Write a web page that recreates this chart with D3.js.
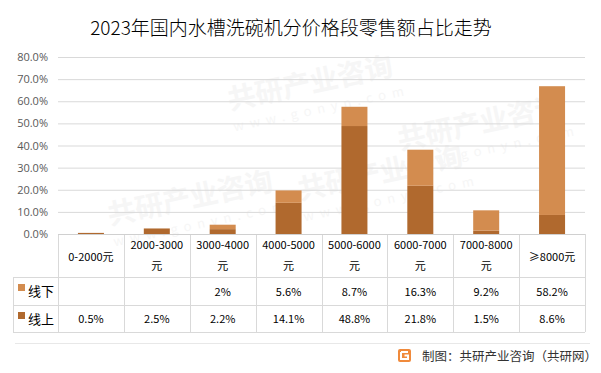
<!DOCTYPE html>
<html lang="zh">
<head>
<meta charset="UTF-8">
<title>2023年国内水槽洗碗机分价格段零售额占比走势</title>
<script src="https://d3js.org/d3.v7.min.js"></script>
<style>
    body, html {
        margin: 0;
        padding: 0;
        background: #fff;
        font-family: 'Noto Sans CJK SC', 'Noto Sans', sans-serif;
    }
    svg { display: block; }
</style>
</head>
<body>
<svg id="chart"></svg>
<script>
    // price bands (header lines) and shares in %
    const categories = [
        ['0-2000元'],
        ['2000-3000', '元'],
        ['3000-4000', '元'],
        ['4000-5000', '元'],
        ['5000-6000', '元'],
        ['6000-7000', '元'],
        ['7000-8000', '元'],
        ['≥8000元']
    ];
    const online = [0.5, 2.5, 2.2, 14.1, 48.8, 21.8, 1.5, 8.6];      // 线上
    const offline = [null, null, 2, 5.6, 8.7, 16.3, 9.2, 58.2];      // 线下
    const onlineLabels = ['0.5%', '2.5%', '2.2%', '14.1%', '48.8%', '21.8%', '1.5%', '8.6%'];
    const offlineLabels = ['', '', '2%', '5.6%', '8.7%', '16.3%', '9.2%', '58.2%'];
    const yTicks = [0, 10, 20, 30, 40, 50, 60, 70, 80];

    const width = 601, height = 373;
    const colOff = '#d38c4f', colOn = '#b0692e';
    const gridCol = '#d9d9d9';

    const svg = d3.select('#chart').attr('width', width).attr('height', height);

    // faint watermarks
    const wm = svg.append('g').attr('fill', '#f6f6f6').attr('font-weight', 700);
    [[230, 110], [110, 225], [300, 200], [400, 150]].forEach(p => {
        const g = wm.append('g').attr('transform', `translate(${p[0]},${p[1]}) rotate(-12)`);
        g.append('text').attr('font-size', 28).text('共研产业咨询');
        g.append('text').attr('y', 22).attr('font-size', 13).attr('letter-spacing', 6)
            .attr('font-weight', 400).text('www.gonyn.com');
    });

    const plotL = 58, plotR = 585, plotT = 57, plotB = 234;

    const x = d3.scaleBand().domain(d3.range(categories.length)).range([plotL, plotR]).paddingInner(0).paddingOuter(0);
    const y = d3.scaleLinear().domain([0, 80]).range([plotB, plotT]);

    // title
    svg.append('text')
        .attr('x', 291).attr('y', 35)
        .attr('text-anchor', 'middle')
        .attr('font-size', 19)
        .attr('font-weight', 300)
        .attr('fill', '#000')
        .text('2023年国内水槽洗碗机分价格段零售额占比走势');

    // gridlines + y axis labels
    const yAxis = d3.axisLeft(y).tickValues(yTicks).tickSize(-(plotR - plotL)).tickPadding(10)
        .tickFormat(d => d.toFixed(1) + '%');
    const ga = svg.append('g').attr('transform', `translate(${plotL},0)`).call(yAxis);
    ga.select('.domain').remove();
    ga.selectAll('.tick line').attr('stroke', gridCol).attr('stroke-width', 1);
    ga.selectAll('.tick text').attr('fill', '#595959').attr('font-size', 11)
        .attr('font-family', "'Open Sans', 'Noto Sans', sans-serif");

    // bars
    const bw = 26;
    const bars = svg.append('g');
    categories.forEach((c, i) => {
        const cx = x(i) + x.bandwidth() / 2;
        const on = online[i] || 0;
        const off = offline[i] || 0;
        bars.append('rect')
            .attr('x', cx - bw / 2).attr('width', bw)
            .attr('y', y(on)).attr('height', y(0) - y(on))
            .attr('fill', colOn);
        if (off) {
            bars.append('rect')
                .attr('x', cx - bw / 2).attr('width', bw)
                .attr('y', y(on + off)).attr('height', y(on) - y(on + off))
                .attr('fill', colOff);
        }
    });

    // data table
    const tLeft = 13, rowTop = 277, rowMid = 305, rowBot = 332;
    const tbl = svg.append('g').attr('stroke', gridCol).attr('stroke-width', 1);
    [rowTop, rowMid, rowBot].forEach(yy => {
        tbl.append('line').attr('x1', tLeft).attr('x2', plotR).attr('y1', yy + 0.5).attr('y2', yy + 0.5);
    });
    tbl.append('line').attr('x1', tLeft + 0.5).attr('x2', tLeft + 0.5).attr('y1', rowTop).attr('y2', rowBot);
    d3.range(categories.length + 1).forEach(i => {
        const xx = i < categories.length ? x(i) : plotR;
        tbl.append('line').attr('x1', Math.round(xx) + 0.5).attr('x2', Math.round(xx) + 0.5)
            .attr('y1', plotB).attr('y2', rowBot);
    });
    svg.append('line').attr('x1', plotL).attr('x2', plotR).attr('y1', plotB + 0.5).attr('y2', plotB + 0.5)
        .attr('stroke', '#d0d0d0');

    const txt = svg.append('g').attr('fill', '#000').attr('font-size', 11).attr('text-anchor', 'middle');
    categories.forEach((c, i) => {
        const cx = x(i) + x.bandwidth() / 2;
        if (c.length === 1) {
            txt.append('text').attr('x', cx).attr('y', 261).text(c[0]);
        } else {
            txt.append('text').attr('x', cx).attr('y', 249).text(c[0]);
            txt.append('text').attr('x', cx).attr('y', 270).text(c[1]);
        }
        txt.append('text').attr('x', cx).attr('y', 296).text(offlineLabels[i]);
        txt.append('text').attr('x', cx).attr('y', 323).text(onlineLabels[i]);
    });

    // row legends
    const rows = [['线下', colOff, 291], ['线上', colOn, 319]];
    rows.forEach(r => {
        svg.append('rect').attr('x', 18).attr('y', r[2] - 7).attr('width', 7).attr('height', 7).attr('fill', r[1]);
        svg.append('text').attr('x', 28).attr('y', r[2] + 5).attr('font-size', 13).attr('fill', '#000').text(r[0]);
    });

    // footer
    svg.append('line').attr('x1', 15).attr('x2', 590).attr('y1', 343.5).attr('y2', 343.5)
        .attr('stroke', '#e8e8e8');
    const logo = svg.append('g').attr('transform', 'translate(398,349)');
    logo.append('rect').attr('width', 13).attr('height', 13).attr('rx', 2).attr('fill', '#f08a3c');
    logo.append('path').attr('d', 'M3,3 H10 M3,3 V10 H10 V6.5 H6.5').attr('stroke', '#fff')
        .attr('stroke-width', 2).attr('fill', 'none');
    svg.append('text').attr('x', 422).attr('y', 361).attr('font-size', 12.5).attr('fill', '#333')
        .text('制图：共研产业咨询（共研网）');
</script>
</body>
</html>
